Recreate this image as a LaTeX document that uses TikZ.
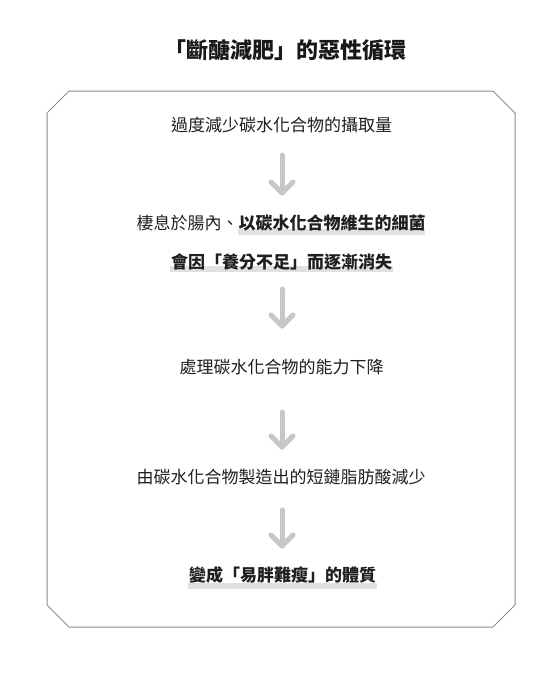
\documentclass[tikz,border=0pt]{standalone}
\usepackage{fontspec}
\setmainfont{Noto Sans CJK TC}
\begin{document}
\begin{tikzpicture}[x=1pt,y=-1pt,
  txt/.style={anchor=base,inner sep=0pt,text=black!88,font=\fontsize{17}{20}\selectfont},
  ttl/.style={anchor=base,inner sep=0pt,text=black!90,font=\fontsize{22}{26}\selectfont\bfseries},
  hl/.style={fill=black!12,draw=none},
  frame/.style={draw=black!45,line width=1pt},
  arr/.style={draw=black!22,line width=5pt,line cap=round,line join=round}]
\useasboundingbox[fill=white] (0,0) rectangle (557,675);
% frame
\draw[frame] (69,91) -- (493,91) -- (515,113) -- (515,605) -- (493,627) -- (69,627) -- (47,605) -- (47,113) -- cycle;
% highlights
\fill[hl] (238,229) rectangle (425,234.5);
\fill[hl] (170,266) rectangle (393,271.5);
\fill[hl] (188,583) rectangle (377,588.5);
% title
\node[ttl] (title) at (285,58.5) {「斷醣減肥」的惡性循環};
% texts
\node[txt] (t1) at (281.5,131.5) {過度減少碳水化合物的攝取量};
\node[txt] (t2) at (281,229.5) {棲息於腸內、\textbf{以碳水化合物維生的細菌}};
\node[txt] (t3) at (281.5,268.5) {\textbf{會因「養分不足」而逐漸消失}};
\node[txt] (t4) at (281.5,373.5) {處理碳水化合物的能力下降};
\node[txt] (t5) at (281,483.5) {由碳水化合物製造出的短鏈脂肪酸減少};
\node[txt] (t6) at (282.5,581.5) {\textbf{變成「易胖難瘦」的體質}};
% arrows
\foreach \n/\a/\b in {1/155/193, 2/289/326, 3/412/447, 4/510/546}{
  \coordinate (s\n) at (282,\a);
  \coordinate (e\n) at (282,\b);
  \coordinate (l\n) at (271,\b-11);
  \coordinate (r\n) at (293,\b-11);
  \draw[arr] (s\n) -- (e\n);
  \draw[arr] (l\n) -- (e\n) -- (r\n);
}
\end{tikzpicture}
\end{document}
